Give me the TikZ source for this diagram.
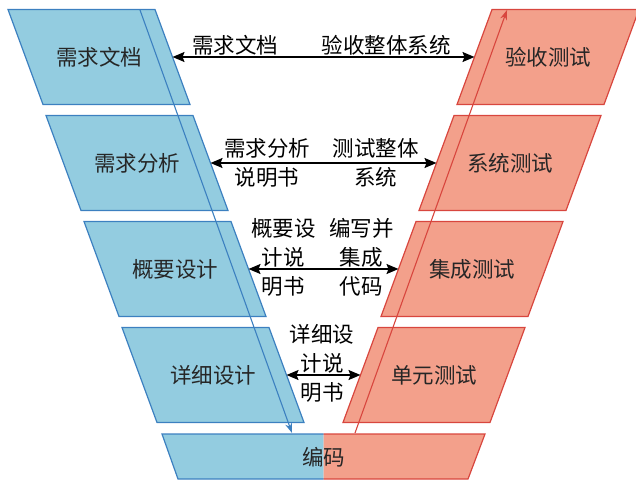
\documentclass[tikz,border=0pt]{standalone}
\usepackage{fontspec}
\newfontfamily\cjk{Noto Sans CJK SC}
\usetikzlibrary{arrows.meta,positioning,backgrounds}
\definecolor{vblue}{HTML}{3C80C0}
\definecolor{vbluefill}{HTML}{93CCE0}
\definecolor{vred}{HTML}{D8463E}
\definecolor{vredfill}{HTML}{F3A08B}

% slanted box behind a named node: #1 node, #2 line, #3 fill, #4 top shift, #5 bottom shift
\newcommand\paraBox[5]{%
  \filldraw[draw=#2, fill=#3, line width=1.2pt]
    ([xshift=#4]#1.north west) -- ([xshift=#4]#1.north east) --
    ([xshift=#5]#1.south east) -- ([xshift=#5]#1.south west) -- cycle;}

\begin{document}
\begin{tikzpicture}[x=1pt, y=-1pt, >={Stealth[length=12pt, width=10pt, inset=2pt]},
    font=\cjk\fontsize{21.5}{29}\selectfont, text=black!85,
    devblk/.style={rectangle, minimum width=147pt, minimum height=95pt,
                   inner sep=0pt, outer sep=0pt},
    testblk/.style={devblk},
    doclab/.style={align=center, inner sep=0pt},
    flow/.style={<->, line width=1.6pt, black}]

\useasboundingbox (0,0) rectangle (636,483);

% Development side (left)
\node[devblk] (req)    at (99, 57)  {需求文档};
\node[devblk] (ana)    at (137,163) {需求分析};
\node[devblk] (arch)   at (175,269) {概要设计};
\node[devblk] (detail) at (213,375) {详细设计};

% Test side (right)
\node[testblk] (accept) at (548, 57)  {验收测试};
\node[testblk] (sys)    at (510,163)  {系统测试};
\node[testblk] (integ)  at (472,269)  {集成测试};
\node[testblk] (unit)   at (434,375)  {单元测试};

\begin{scope}[on background layer]
  \paraBox{req}{vblue}{vbluefill}{-17.5pt}{17.5pt}
  \paraBox{ana}{vblue}{vbluefill}{-17.5pt}{17.5pt}
  \paraBox{arch}{vblue}{vbluefill}{-17.5pt}{17.5pt}
  \paraBox{detail}{vblue}{vbluefill}{-17.5pt}{17.5pt}
  \paraBox{accept}{vred}{vredfill}{17.5pt}{-17.5pt}
  \paraBox{sys}{vred}{vredfill}{17.5pt}{-17.5pt}
  \paraBox{integ}{vred}{vredfill}{17.5pt}{-17.5pt}
  \paraBox{unit}{vred}{vredfill}{17.5pt}{-17.5pt}
\end{scope}

% Coding block at the bottom, half blue, half red
\coordinate (ctl) at (162,434);
\coordinate (ctm) at (323.5,434);
\coordinate (ctr) at (485,434);
\coordinate (cbl) at (178,479);
\coordinate (cbm) at (323.5,479);
\coordinate (cbr) at (468,479);
\fill[vbluefill] (ctl) -- (ctm) -- (cbm) -- (cbl) -- cycle;
\fill[vredfill]  (ctm) -- (ctr) -- (cbr) -- (cbm) -- cycle;
\draw[vblue, line width=1.2pt] (ctm) -- (ctl) -- (cbl) -- (cbm);
\draw[vred, line width=1.2pt]  (ctm) -- (ctr) -- (cbr) -- (cbm);
\node[doclab] (code) at (323.5,457) {编码};

% Long descent and ascent
\coordinate (down0) at (140,10);
\coordinate (down1) at (292,433);
\coordinate (up0)   at (355,433);
\coordinate (up1)   at (507,10);
\draw[-{Stealth[length=10pt, width=7pt]}, vblue, line width=1.1pt] (down0) -- (down1);
\draw[-{Stealth[length=10pt, width=7pt]}, vred, line width=1.1pt] (up0) -- (up1);

% Deliverables between the two sides
\draw[flow] (req) -- node[doclab, pos=0.207, yshift=12pt] {需求文档}
                     node[doclab, pos=0.707, yshift=12pt] {验收整体系统} (accept);
\draw[flow] (ana) -- node[doclab, pos=0.25] {需求分析\\说明书}
                     node[doclab, pos=0.732] {测试整体\\系统} (sys);
\draw[flow] (arch) -- node[doclab, pos=0.233, yshift=12pt] {概要设\\计说\\明书}
                      node[doclab, pos=0.753, yshift=12pt] {编写并\\集成\\代码} (integ);
\draw[flow] (detail) -- node[doclab, pos=0.48, yshift=12pt] {详细设\\计说\\明书} (unit);

\end{tikzpicture}
\end{document}
